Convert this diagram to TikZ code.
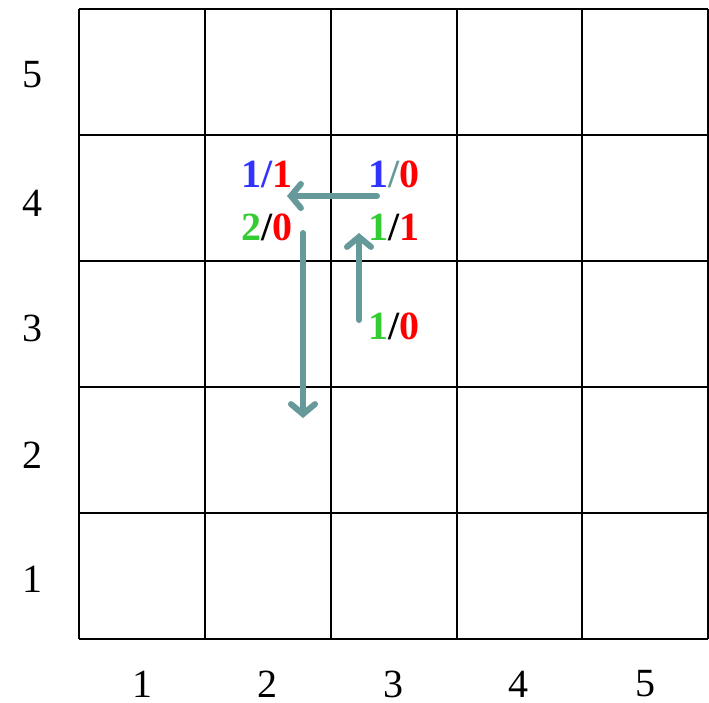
\documentclass[tikz,border=0pt]{standalone}
\usepackage{fontspec}
\setmainfont{Liberation Serif}
\usetikzlibrary{arrows.meta}
\definecolor{cblue}{RGB}{51,51,255}
\definecolor{cred}{RGB}{255,0,0}
\definecolor{cgreen}{RGB}{51,204,51}
\definecolor{cteal}{RGB}{102,153,153}
\tikzset{
  gridline/.style={line width=2pt, black},
  axislabel/.style={font=\fontsize{40}{44}\selectfont, inner sep=0pt},
  valuelabel/.style={font=\fontsize{40}{44}\selectfont\bfseries, inner sep=0pt, anchor=base},
  movearrow/.style={cteal, line width=6pt, line cap=round, -{Straight Barb[length=10pt, width=24pt, line cap=round]}}
}
\begin{document}
\begin{tikzpicture}[x=1pt,y=-1pt]
\useasboundingbox (0,0) rectangle (709,702);
% grid
\foreach \x in {79,205,331,457,582,708} \draw[gridline] (\x,9) -- (\x,639);
\foreach \y in {9,135,261,387,513,639} \draw[gridline] (79,\y) -- (708,\y);
% row labels
\node[axislabel] (r5) at (32,75) {5};
\node[axislabel] (r4) at (32,203) {4};
\node[axislabel] (r3) at (32,328) {3};
\node[axislabel] (r2) at (32,455) {2};
\node[axislabel] (r1) at (32,579) {1};
% column labels
\node[axislabel] (c1) at (142,684) {1};
\node[axislabel] (c2) at (267,684) {2};
\node[axislabel] (c3) at (393,684) {3};
\node[axislabel] (c4) at (518,684) {4};
\node[axislabel] (c5) at (645,684) {5};
% value labels
\node[valuelabel] (a) at (267,187) {\textcolor{cblue}{1/}\textcolor{cred}{1}};
\node[valuelabel] (b) at (394,187) {\textcolor{cblue}{1}\textcolor{cteal}{/}\textcolor{cred}{0}};
\node[valuelabel] (c) at (267,240) {\textcolor{cgreen}{2}/\textcolor{cred}{0}};
\node[valuelabel] (d) at (394,240) {\textcolor{cgreen}{1}/\textcolor{cred}{1}};
\node[valuelabel] (e) at (394,339) {\textcolor{cgreen}{1}/\textcolor{cred}{0}};
% arrows
\coordinate (h1) at (377,196);
\coordinate (h2) at (287,196);
\coordinate (v1) at (303,233);
\coordinate (v2) at (303,418);
\coordinate (u1) at (359,320);
\coordinate (u2) at (359,233);
\draw[movearrow] (h1) -- (h2);
\draw[movearrow] (v1) -- (v2);
\draw[movearrow] (u1) -- (u2);
\end{tikzpicture}
\end{document}
